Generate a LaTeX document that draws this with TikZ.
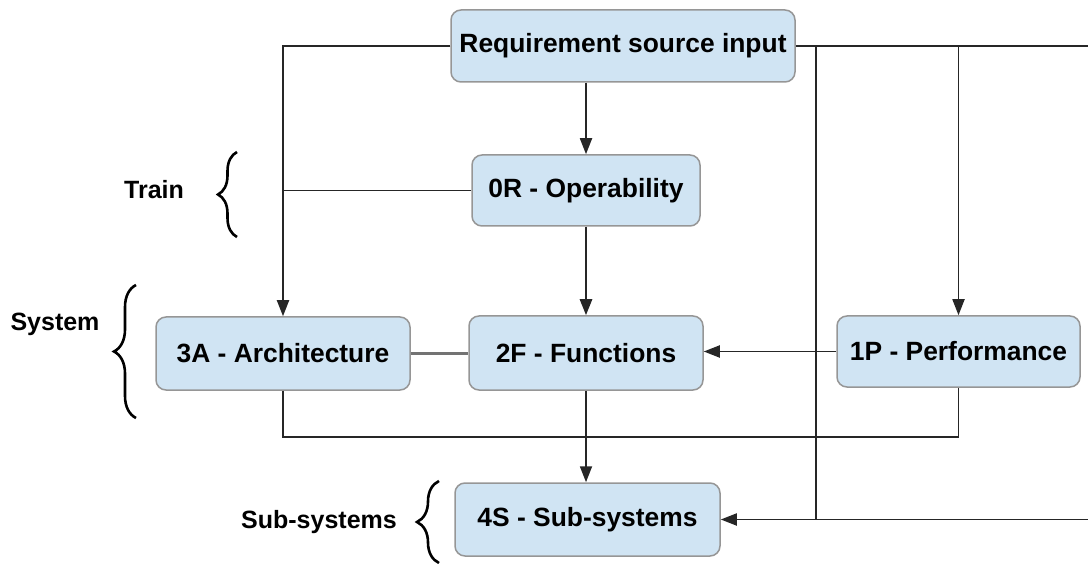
\documentclass[tikz,border=0pt]{standalone}
\usepackage{fontspec}
\setmainfont{Liberation Sans}
\usetikzlibrary{arrows.meta,decorations.pathreplacing}
\definecolor{boxfill}{RGB}{208,228,243}
\definecolor{boxline}{RGB}{150,150,150}
\begin{document}
\begin{tikzpicture}[x=1pt,y=-1pt,
 box/.style={draw=boxline,fill=boxfill,line width=1.5pt,rounded corners=10pt,minimum height=72pt,font=\fontsize{26.4}{31}\selectfont\bfseries,inner sep=0pt},
 conn/.style={line width=1.8pt,draw=black!85},
 arr/.style={conn,-{Triangle[length=16pt,width=12pt]}},
 lbl/.style={font=\fontsize{25}{30}\selectfont\bfseries},
 brc/.style={decorate,decoration={brace,amplitude=#1,aspect=0.5},line width=2.6pt,draw=black}]
\useasboundingbox (0,0) rectangle (1088,564);
\node[box,minimum width=344pt] (req) at (623,46) {Requirement source input};
\node[box,minimum width=228pt,minimum height=71pt] (op) at (586,190.5) {0R - Operability};
\node[box,minimum width=254pt,minimum height=73pt] (arch) at (283,353.5) {3A - Architecture};
\node[box,minimum width=234pt,minimum height=74pt] (fun) at (586,353) {2F - Functions};
\node[box,minimum width=243pt,minimum height=71pt] (perf) at (958.5,351.5) {1P - Performance};
\node[box,minimum width=265pt,minimum height=73pt] (sub) at (587.5,519.5) {4S - Sub-systems};
\coordinate (east1) at (1088,46);
\coordinate (east2) at (1088,519.5);
\coordinate (tap) at (816,0);
% connectors
\draw[arr] (req.west) -| (arch.north);
\draw[conn] (op.west) -- (op.west -| arch.north);
\draw[arr] (req.south -| op.north) -- (op.north);
\draw[arr,line width=2.6pt] (op.south) -- (fun.north);
\draw[conn,draw=black!55,line width=2.4pt] (arch.east) -- (arch.east -| fun.west);
\draw[arr] (perf.west) -- (perf.west -| fun.east);
\draw[conn] (arch.south) -- ++(0,46) -| (perf.south);
\draw[arr] (fun.south) -- (fun.south |- sub.north);
\draw[conn,line width=2.6pt] (req.east) -- (east1);
\draw[arr] (req.east -| perf.north) -- (perf.north);
\draw[conn] (req.east -| tap) -- (sub.east -| tap);
\draw[arr] (east2) -- (sub.east);
% braces and labels
\draw[brc=19pt] (237,237) -- (237,152);
\draw[brc=22pt] (136,418) -- (136,285);
\draw[brc=22pt] (439,563) -- (439,481);
\node[lbl] (train) at (154,190) {Train};
\node[lbl] (system) at (55,324) {System};
\node[lbl] (subl) at (319,522) {Sub-systems};
\end{tikzpicture}
\end{document}
